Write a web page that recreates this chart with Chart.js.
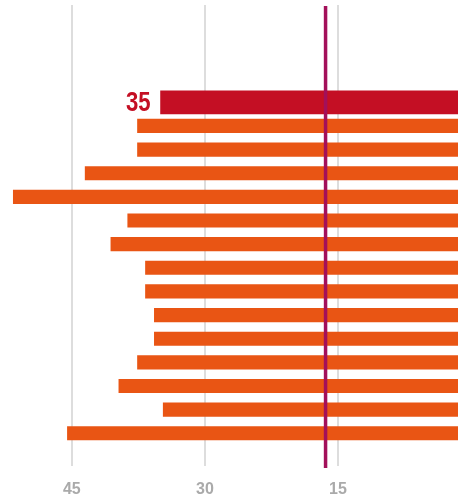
<!DOCTYPE html>
<html>
<head>
<meta charset="utf-8">
<script src="https://cdn.jsdelivr.net/npm/chart.js@4/dist/chart.umd.min.js"></script>
<style>
    html, body { margin: 0; padding: 0; background: #fff; }
    #wrap { width: 458px; height: 495px; }
</style>
</head>
<body>
<div id="wrap"><canvas id="chart"></canvas></div>
<script>
// ===== Data =====
const categories = ['A', 'B', 'C', 'D', 'E', 'F', 'G', 'H', 'I', 'J', 'K', 'L', 'M', 'N', 'O'];
const highlightValues = [35];
const barValues = [37.6, 37.6, 43.5, 51.6, 38.7, 40.6, 36.7, 36.7, 35.7, 35.7, 37.6, 39.7, 34.7, 45.5];
const referenceValue = 16.4;
const tickValues = [45, 30, 15];

// ===== Colours =====
const HIGHLIGHT = '#C40F24';
const ORANGE = '#E95514';
const REF_LINE = '#A3105A';

// ===== Label on highlighted bar =====
const highlightLabel = {
    id: 'highlightLabel',
    afterDatasetsDraw(chart) {
        const ctx = chart.ctx;
        const meta = chart.getDatasetMeta(0);
        meta.data.forEach((bar, i) => {
            ctx.save();
            ctx.fillStyle = HIGHLIGHT;
            ctx.font = 'bold 27px "Liberation Sans Narrow", "Liberation Sans", Arial';
            ctx.textAlign = 'right';
            ctx.textBaseline = 'middle';
            ctx.translate(bar.x - 10, bar.y + 1);
            ctx.scale(0.82, 1);
            ctx.fillText(String(highlightValues[i]), 0, 0);
            ctx.restore();
        });
    }
};

// ===== Reference line =====
const referenceLine = {
    id: 'referenceLine',
    afterDatasetsDraw(chart) {
        const { ctx, chartArea, scales } = chart;
        const x = scales.x.getPixelForValue(referenceValue);
        ctx.save();
        ctx.strokeStyle = REF_LINE;
        ctx.lineWidth = 3.5;
        ctx.beginPath();
        ctx.moveTo(x, chartArea.top + 1);
        ctx.lineTo(x, chartArea.bottom + 2);
        ctx.stroke();
        ctx.restore();
    }
};

new Chart(document.getElementById('chart'), {
    type: 'bar',
    data: {
        labels: categories,
        datasets: [
            {
                data: highlightValues.map((v, i) => ({ x: v, y: i })),
                backgroundColor: HIGHLIGHT,
                barThickness: 23,
                grouped: false
            },
            {
                data: barValues.map((v, i) => ({ x: v, y: i + highlightValues.length })),
                backgroundColor: ORANGE,
                barThickness: 13.5,
                grouped: false
            }
        ]
    },
    options: {
        indexAxis: 'y',
        responsive: true,
        maintainAspectRatio: false,
        animation: false,
        layout: { padding: { top: 5, left: 0, right: 0, bottom: 0 } },
        plugins: {
            legend: { display: false },
            tooltip: { enabled: false }
        },
        scales: {
            x: {
                type: 'linear',
                reverse: true,
                min: 1.47,
                max: 53.1,
                afterBuildTicks: scale => {
                    scale.ticks = tickValues.map(v => ({ value: v }));
                },
                afterFit: scale => { scale.height = 29; },
                grid: { color: '#dddddd', lineWidth: 2, drawTicks: false },
                border: { display: false },
                ticks: {
                    padding: 14,
                    color: '#aaaaaa',
                    font: { family: '"Liberation Sans", Arial', size: 16, weight: 'bold' }
                }
            },
            y: {
                type: 'linear',
                reverse: true,
                offset: false,
                min: -4.116,
                max: 15.384,
                display: false
            }
        }
    },
    plugins: [highlightLabel, referenceLine]
});
</script>
</body>
</html>
